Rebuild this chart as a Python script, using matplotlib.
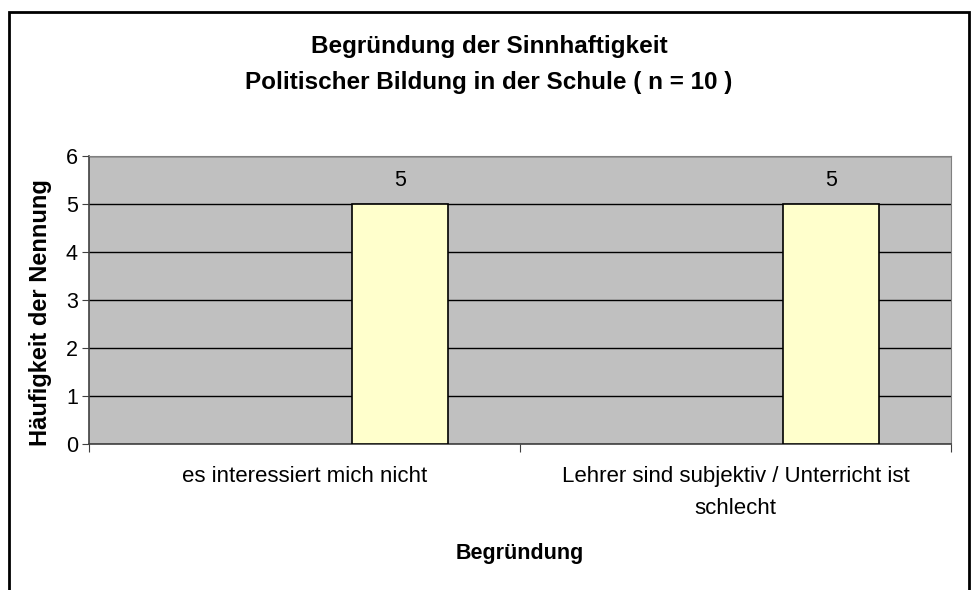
import numpy as np
import matplotlib.pyplot as plt
from matplotlib.patches import Rectangle

categories = ["es interessiert mich nicht", "Lehrer sind subjektiv / Unterricht ist\nschlecht"]
counts = [5, 5]
yticks = [0, 1, 2, 3, 4, 5, 6]

plt.rcParams['font.family'] = ['Liberation Sans', 'DejaVu Sans']

fig = plt.figure(figsize=(9.78, 5.9), dpi=100)
# outer chart border (bottom runs off the picture)
fig.patches.append(Rectangle((9/978, -0.05), 960/978, 1.05 - 12/590, transform=fig.transFigure,
                             fill=False, edgecolor='black', linewidth=2))

ax = fig.add_axes([89/978, 1 - 444/590, 862/978, 288/590])
ax.set_facecolor('#C0C0C0')

x = np.arange(len(categories))
w = 0.222
bars = ax.bar(x + w, counts, width=w, color='#FFFFCC', edgecolor='black', linewidth=1.2, zorder=3)
for b, v in zip(bars, counts):
    ax.text(b.get_x() + b.get_width() / 2, v + 0.48, str(v), ha='center', va='center', fontsize=15.5)

ax.set_xlim(-0.5, 1.5)
ax.set_ylim(0, 6)
ax.set_yticks(yticks)
ax.yaxis.grid(True, color='black', linewidth=1, zorder=1)
ax.set_axisbelow(True)
ax.tick_params(axis='y', labelsize=15.5, direction='out', length=5, color='#404040', pad=3)

ax.set_xticks([-0.5, 0.5, 1.5])
ax.set_xticklabels([])
ax.set_xticks(x, minor=True)
ax.set_xticklabels(categories, minor=True, fontsize=16, linespacing=1.7)
ax.tick_params(axis='x', which='major', direction='out', length=6, color='#404040')
ax.tick_params(axis='x', which='minor', length=0, pad=16)

for s in ['top', 'right']:
    ax.spines[s].set_color('#808080')
for s in ['left', 'bottom']:
    ax.spines[s].set_color('#404040')
    ax.spines[s].set_linewidth(1.2)

ax.set_ylabel('Häufigkeit der Nennung', fontsize=17, fontweight='bold')
ax.yaxis.set_label_coords(-0.043, 0.455)
ax.set_xlabel('Begründung', fontsize=15.5, fontweight='bold', labelpad=17)

fig.text(0.5, 1 - 47/590, 'Begründung der Sinnhaftigkeit', ha='center', va='center', fontsize=17.5, fontweight='bold')
fig.text(0.5, 1 - 83/590, 'Politischer Bildung in der Schule ( n = 10 )', ha='center', va='center', fontsize=17.5, fontweight='bold')

fig.savefig('out.png', dpi=100, facecolor='white')
